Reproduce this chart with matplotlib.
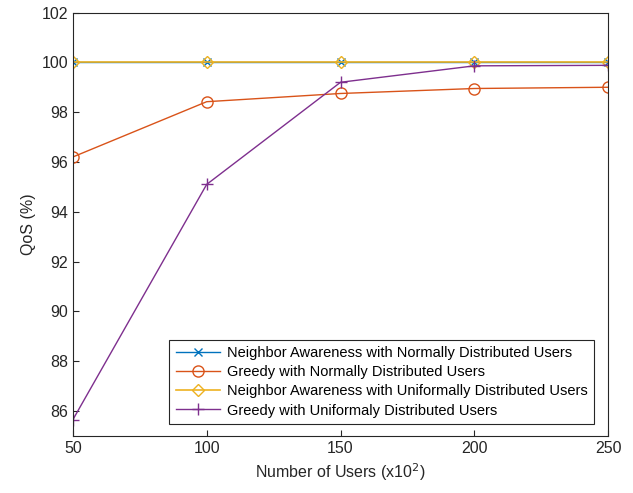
import matplotlib.pyplot as plt

plt.rcParams["font.family"] = ["Liberation Sans", "DejaVu Sans"]

users = [50, 100, 150, 200, 250]
na_normal = [100.0, 100.0, 100.0, 100.0, 100.0]
greedy_normal = [96.2, 98.42, 98.75, 98.95, 99.0]
na_uniform = [100.0, 100.0, 100.0, 100.0, 100.0]
greedy_uniform = [85.65, 95.1, 99.2, 99.86, 99.88]

labels = [
    "Neighbor Awareness with Normally Distributed Users",
    "Greedy with Normally Distributed Users",
    "Neighbor Awareness with Uniformally Distributed Users",
    "Greedy with Uniformaly Distributed Users",
]

fig = plt.figure(figsize=(6.33, 4.93), dpi=100)
ax = fig.add_axes([0.115, 0.1156, 0.846, 0.859])

ax.plot(users, na_normal, color="#0072BD", marker="x", ms=6, lw=1.0,
        mfc="none", label=labels[0])
ax.plot(users, greedy_normal, color="#D95319", marker="o", ms=8, lw=1.0,
        mfc="none", label=labels[1])
ax.plot(users, na_uniform, color="#EDB120", marker="D", ms=6, lw=1.2,
        mfc="none", label=labels[2])
ax.plot(users, greedy_uniform, color="#7E2F8E", marker="+", ms=9, lw=1.0,
        label=labels[3])

ax.set_xlim(50, 250)
ax.set_ylim(85, 102)
ax.set_xticks([50, 100, 150, 200, 250])
ax.set_yticks(range(86, 103, 2))
ax.tick_params(direction="in", length=4, labelsize=11.5, colors="#262626")
for s in ax.spines.values():
    s.set_color("#262626")
    s.set_linewidth(0.8)
ax.set_xlabel("Number of Users (x10$^2$)", fontsize=11.5, color="#262626")
ax.set_ylabel("QoS (%)", fontsize=11.5, color="#262626")

leg = ax.legend(loc="lower right", bbox_to_anchor=(0.974, 0.028),
                borderaxespad=0, fontsize=10.5, fancybox=False,
                edgecolor="#262626", framealpha=1, handlelength=3.0,
                labelspacing=0.35, borderpad=0.45, handletextpad=0.5)
leg.get_frame().set_linewidth(0.8)

fig.savefig("out.png", dpi=100)
